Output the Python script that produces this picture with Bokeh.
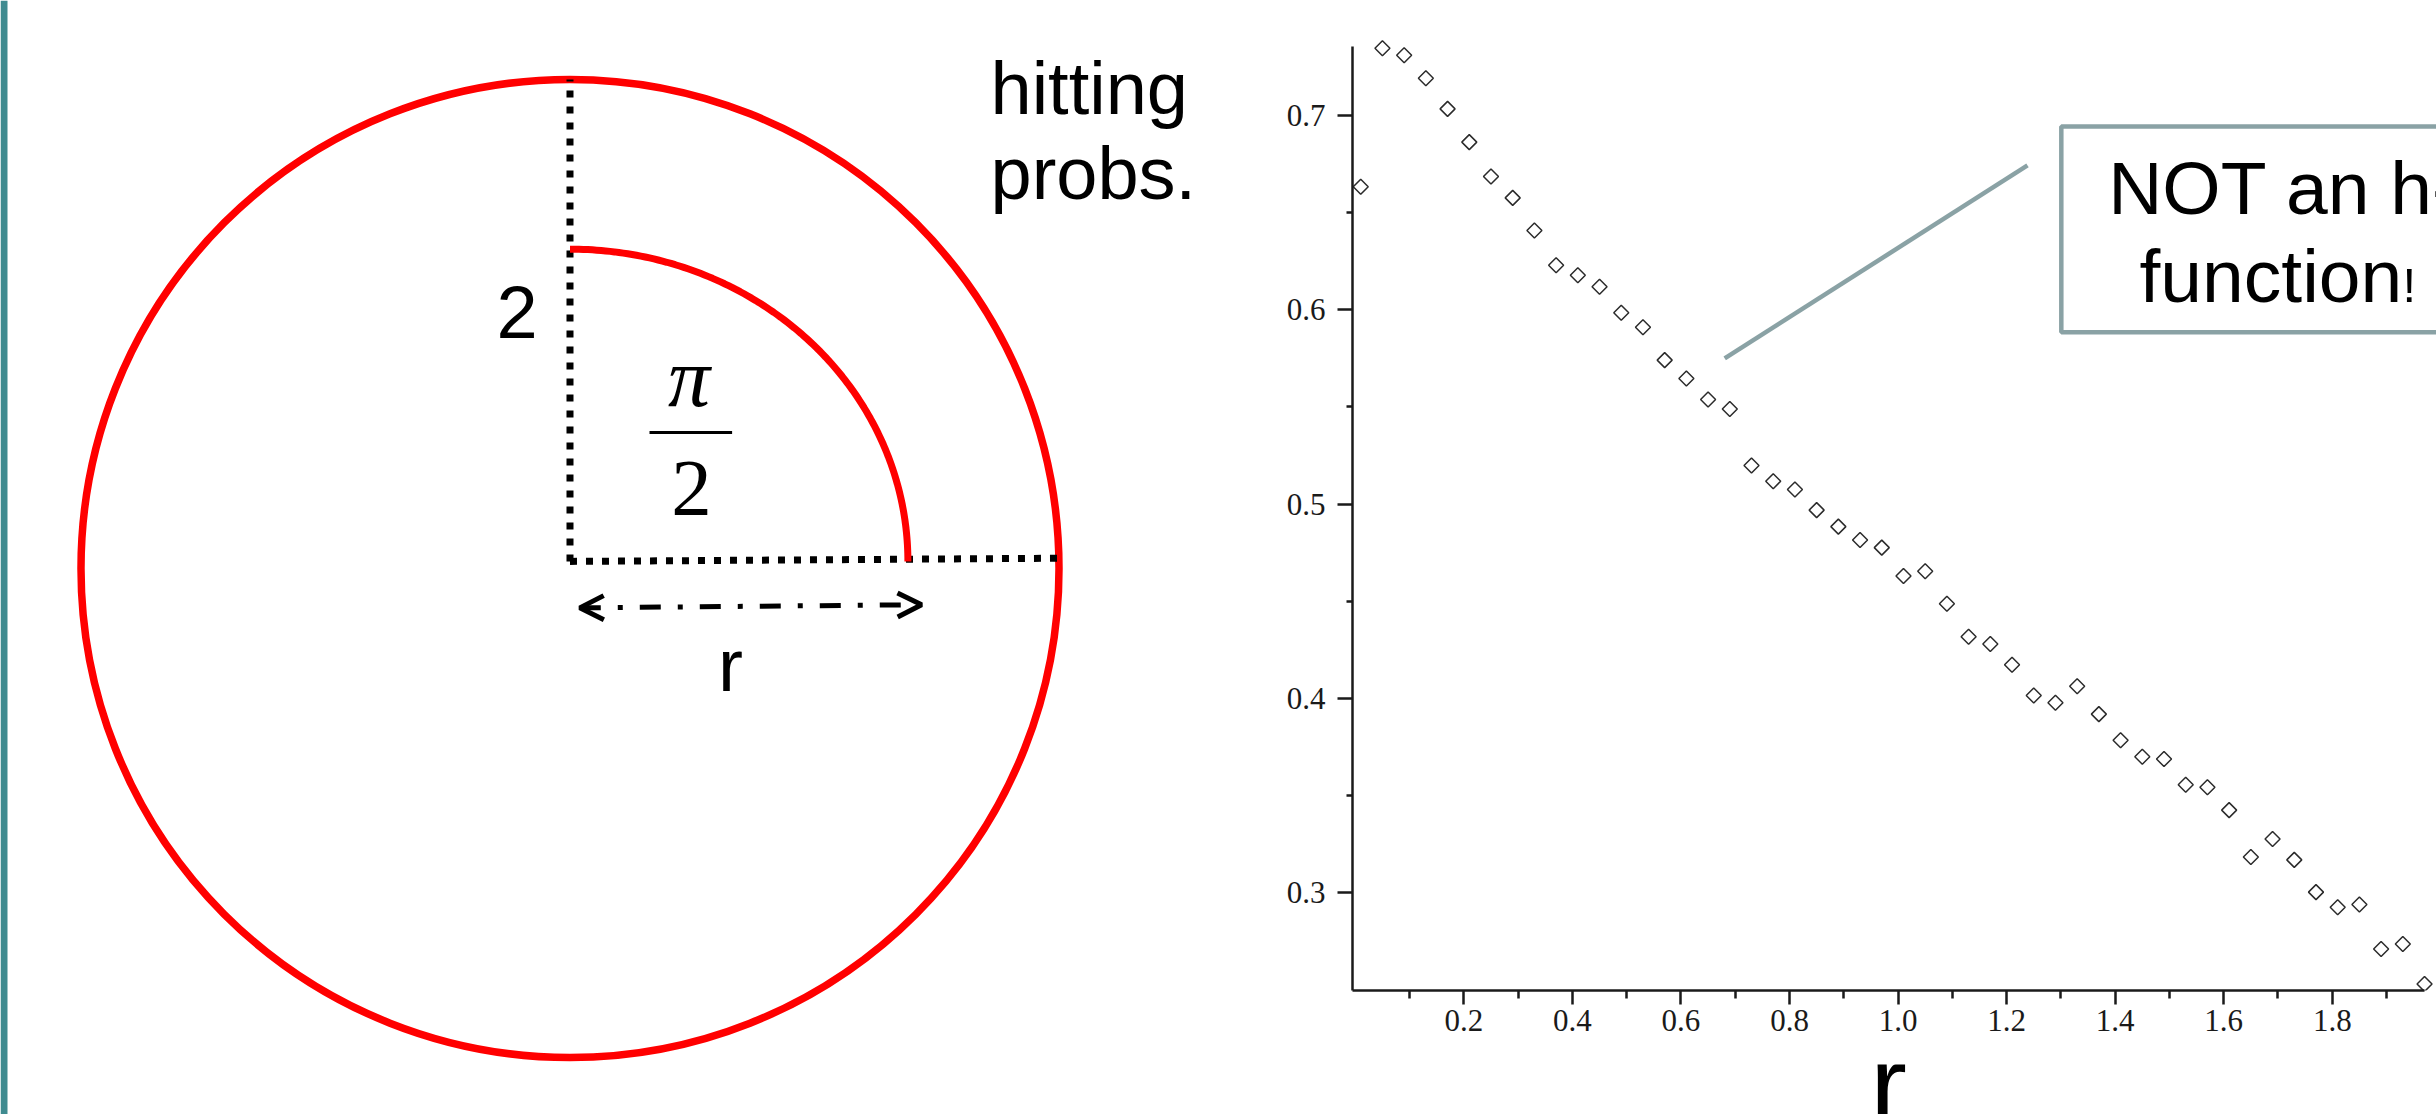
import numpy as np
from bokeh.plotting import figure
from bokeh.layouts import row, column
from bokeh.models import (Range1d, FixedTicker, PrintfTickFormatter, Label,
                          BoxAnnotation, Arrow, OpenHead)
from bokeh.embed import file_html
from bokeh.resources import INLINE

# ---------------------------------------------------------------- data
# simulated hitting probabilities as a function of the arc radius r
r_values = [0.01, 0.05, 0.09, 0.13, 0.17, 0.21, 0.25, 0.29, 0.33, 0.37,
            0.41, 0.45, 0.49, 0.53, 0.57, 0.61, 0.65, 0.69, 0.73, 0.77,
            0.81, 0.85, 0.89, 0.93, 0.97, 1.01, 1.05, 1.09, 1.13, 1.17,
            1.21, 1.25, 1.29, 1.33, 1.37, 1.41, 1.45, 1.49, 1.53, 1.57,
            1.61, 1.65, 1.69, 1.73, 1.77, 1.81, 1.85, 1.89, 1.93, 1.97]
hit_prob = [0.6633, 0.7346, 0.7310, 0.7192, 0.7034, 0.6863, 0.6686, 0.6576, 0.6408, 0.6229,
            0.6178, 0.6119, 0.5985, 0.5910, 0.5741, 0.5646, 0.5538, 0.5489, 0.5199, 0.5118,
            0.5075, 0.4969, 0.4884, 0.4815, 0.4776, 0.4630, 0.4654, 0.4487, 0.4317, 0.4280,
            0.4173, 0.4015, 0.3978, 0.4063, 0.3919, 0.3785, 0.3700, 0.3688, 0.3556, 0.3543,
            0.3425, 0.3184, 0.3276, 0.3169, 0.3003, 0.2925, 0.2939, 0.2710, 0.2736, 0.2530]

x_ticks = [0.2, 0.4, 0.6, 0.8, 1.0, 1.2, 1.4, 1.6, 1.8]
x_minor = [0.1, 0.3, 0.5, 0.7, 0.9, 1.1, 1.3, 1.5, 1.7, 1.9]
y_ticks = [0.3, 0.4, 0.5, 0.6, 0.7]
y_minor = [0.35, 0.45, 0.55, 0.65]

# ---------------------------------------------------------------- diagram geometry
R_OUTER = 2.0                  # outer circle radius
CORNER = (0.0, 0.029)          # where the two dotted radii meet
ARC_RX, ARC_RY = 1.382, 1.277  # inner quarter arc
ARROW_FROM = (0.040, -0.161)
ARROW_TO = (1.438, -0.148)

RED = "#FF0000"
TEAL = "#3F8B90"
CALLOUT = "#8AA2A5"
SANS = "Liberation Sans"
SERIF = "Liberation Serif"

# half of (ascent - descent) per font, used to put labels on their baseline
BASE_SHIFT = {SANS: 0.3465, SERIF: 0.3375}


def add_text(fig, ppu, x, y, text, size_px, font=SANS, style="normal", align="left"):
    """Place a label whose alphabetic baseline sits at (x, y); ppu = pixels per y unit."""
    dy = BASE_SHIFT.get(font, 0.3465) * size_px / ppu
    fig.add_layout(Label(x=x, y=y + dy, text=text, text_font=font,
                         text_font_size=f"{size_px}px", text_font_style=style,
                         text_align=align, text_baseline="middle",
                         text_color="black"))


def bare(fig):
    fig.grid.visible = False
    fig.outline_line_color = None
    return fig


# ---------------------------------------------------------------- left: the disc
LEFT_PPU = 244.5
left = bare(figure(width=1230, height=1114,
                   x_range=Range1d(-2.3292, 2.7014), y_range=Range1d(-2.2331, 2.3231),
                   output_backend="svg", toolbar_location=None,
                   x_axis_location=None, y_axis_location=None, min_border=0,
                   frame_align=False))

left.add_layout(BoxAnnotation(left=0, right=7, left_units="screen", right_units="screen",
                              fill_color=TEAL, fill_alpha=1.0, line_color=None))

left.circle(x=[0.0], y=[0.0], radius=R_OUTER, fill_color=None,
            line_color=RED, line_width=7.5)

# dotted radii
left.line(x=[CORNER[0], CORNER[0]], y=[CORNER[1], R_OUTER],
          line_color="black", line_width=7, line_dash="7 9")
left.line(x=[CORNER[0], R_OUTER], y=[CORNER[1], 0.042],
          line_color="black", line_width=7, line_dash="7 9")

# inner quarter arc
t = np.linspace(0.0, np.pi / 2, 120)
left.line(x=CORNER[0] + ARC_RX * np.cos(t), y=CORNER[1] + ARC_RY * np.sin(t),
          line_color=RED, line_width=7)

# double arrow marking r
left.add_layout(Arrow(x_start=ARROW_FROM[0], y_start=ARROW_FROM[1],
                      x_end=ARROW_TO[0], y_end=ARROW_TO[1],
                      start=OpenHead(size=24, line_width=5, line_color="black"),
                      end=OpenHead(size=24, line_width=5, line_color="black"),
                      line_width=5, line_color="black", line_dash="21 17 5 17"))

add_text(left, LEFT_PPU, -0.2168, 0.9427, "2", 74, align="center")
add_text(left, LEFT_PPU, 0.6564, -0.499, "r", 75, align="center")
add_text(left, LEFT_PPU, 0.4867, 0.6667, "\u03c0", 84, font=SERIF, style="italic", align="center")
left.segment(x0=[0.3252], y0=[0.5562], x1=[0.6630], y1=[0.5562],
             line_color="black", line_width=3)
add_text(left, LEFT_PPU, 0.4969, 0.2168, "2", 81, font=SERIF, align="center")
add_text(left, LEFT_PPU, 1.7198, 1.858, "hitting", 74)
add_text(left, LEFT_PPU, 1.7198, 1.5092, "probs.", 74)

# ---------------------------------------------------------------- right: probabilities vs r
X0, X1 = -0.00516, 1.99205
Y0, Y1 = 0.24967, 0.74889
X_AXIS_END = 1.97
RIGHT_PPX = 542.75   # pixels per unit of r
RIGHT_PPU = 1943.0   # pixels per unit of probability
BORDER_LEFT = 122

right = bare(figure(width=1206, height=1064,
                    x_range=Range1d(X0, X1), y_range=Range1d(Y0, Y1),
                    output_backend="svg", toolbar_location=None,
                    min_border_left=BORDER_LEFT, min_border_right=0,
                    min_border_top=20, min_border_bottom=74,
                    frame_align=False))

AX = "#1a1a1a"
xa = right.xaxis[0]
xa.ticker = FixedTicker(ticks=x_ticks, minor_ticks=x_minor)
xa.formatter = PrintfTickFormatter(format="%.1f")
xa.bounds = (X0, X_AXIS_END)
xa.axis_line_width = 2.5
xa.axis_line_color = AX
xa.major_tick_in = 0
xa.major_tick_out = 14
xa.minor_tick_in = 0
xa.minor_tick_out = 8
xa.major_tick_line_width = 2.5
xa.minor_tick_line_width = 2.5
xa.major_tick_line_color = AX
xa.minor_tick_line_color = AX
xa.major_label_text_font = SERIF
xa.major_label_text_font_size = "31px"
xa.major_label_text_color = AX
xa.major_label_standoff = 5

ya = right.yaxis[0]
ya.ticker = FixedTicker(ticks=y_ticks, minor_ticks=y_minor)
ya.formatter = PrintfTickFormatter(format="%.1f")
ya.bounds = (Y0, 0.7356)
ya.axis_line_width = 2.5
ya.axis_line_color = AX
ya.major_tick_in = 0
ya.major_tick_out = 15
ya.minor_tick_in = 0
ya.minor_tick_out = 6
ya.major_tick_line_width = 2.5
ya.minor_tick_line_width = 2.5
ya.major_tick_line_color = AX
ya.minor_tick_line_color = AX
ya.major_label_text_font = SERIF
ya.major_label_text_font_size = "31px"
ya.major_label_text_color = AX
ya.major_label_standoff = 12

right.scatter(r_values, hit_prob, marker="square", angle=np.pi / 4, size=10.6,
              fill_color=None, line_color="#2b2b2b", line_width=1.5)

# callout
right.line(x=[0.6806, 1.2385], y=[0.5750, 0.6743], line_color=CALLOUT, line_width=4.5)
right.add_layout(BoxAnnotation(left=1.3008, right=2.1089, bottom=0.5885, top=0.6943,
                               fill_color="white", fill_alpha=1.0,
                               line_color=CALLOUT, line_alpha=1.0, line_width=4.5))
add_text(right, RIGHT_PPU, 1.3871, 0.6494, "NOT an h-", 75)
add_text(right, RIGHT_PPU, 1.4449, 0.6039, "function", 75)
add_text(right, RIGHT_PPU, 1.9294, 0.6039, "!", 49)

# ---------------------------------------------------------------- strip holding the axis title
title_strip = bare(figure(width=1206, height=50,
                          x_range=Range1d(X0 - BORDER_LEFT / RIGHT_PPX, X1),
                          y_range=Range1d(0, 50),
                          output_backend="svg", toolbar_location=None,
                          x_axis_location=None, y_axis_location=None, min_border=0,
                          frame_align=False))
# title centred under the axis, its baseline just below the page edge
add_text(title_strip, 1.0, (X0 + X_AXIS_END) / 2, -7, "r", 110, align="center")

layout = row(left, column(right, title_strip, spacing=0), spacing=0)
open("out.html", "w").write(file_html(layout, INLINE))
